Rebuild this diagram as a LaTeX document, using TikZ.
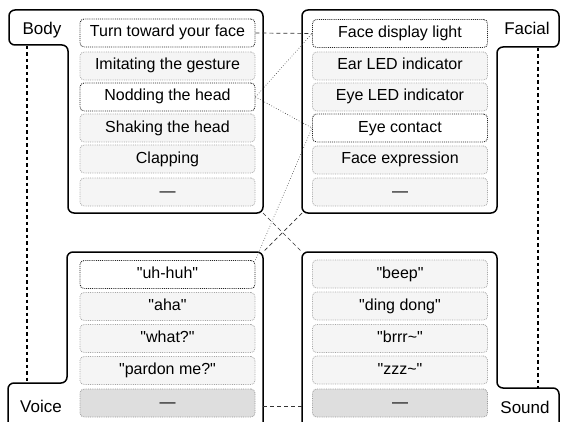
\documentclass[tikz,border=0pt]{standalone}
\usepackage{fontspec}
\setmainfont{Liberation Sans}
\newcommand\qq[1]{\textquotedbl#1\textquotedbl}
\begin{document}
\begin{tikzpicture}[x=1pt,y=-1pt,
  panel/.style={line width=1.5pt, rounded corners=6pt},
  item/.style={rounded corners=4pt, minimum width=175pt, minimum height=28pt,
    inner sep=0pt, text height=11.5pt, text depth=3.5pt,
    font=\fontsize{16}{19}\selectfont},
  hot/.style={item, draw=black!85, densely dotted, line width=0.9pt, fill=white},
  plain/.style={item, draw=black!35, densely dotted, line width=0.8pt, fill=black!4},
  tail/.style={item, draw=black!40, densely dotted, line width=0.8pt, fill=black!13},
  tag/.style={anchor=base, inner sep=0pt, font=\fontsize{17}{20}\selectfont},
  link/.style={black!80, line width=0.6pt, dotted},
  bridge/.style={black!80, line width=0.7pt, dash pattern=on 4pt off 3pt},
  rail/.style={black, line width=1.3pt, dash pattern=on 3.5pt off 3pt}]

\useasboundingbox (0,0) rectangle (561,422);

% panel outlines with their label tabs
\draw[panel] (9,45) -- (9,10) -- (263,10) -- (263,213) -- (68,213) -- (68,45) -- cycle;
\draw[panel] (302,213) -- (302,10) -- (559,10) -- (559,47) -- (497,47) -- (497,213) -- cycle;
\draw[panel] (8,440) -- (8,383) -- (67,383) -- (67,252) -- (263,252) -- (263,440);
\draw[panel] (302,440) -- (302,252) -- (497,252) -- (497,388) -- (559,388) -- (559,440);

% panel labels
\node[tag] (lbody)   at (42,35)   {Body};
\node[tag] (lfacial) at (527,35)  {Facial};
\node[tag] (lvoice)  at (41,412)  {Voice};
\node[tag] (lsound)  at (525,413) {Sound};

% body items
\node[hot]   (b1) at (167.5,33)  {Turn toward your face};
\node[plain] (b2) at (167.5,66)  {Imitating the gesture};
\node[hot]   (b3) at (167.5,97)  {Nodding the head};
\node[plain] (b4) at (167.5,128) {Shaking the head};
\node[plain] (b5) at (167.5,159) {Clapping};
\node[plain] (b6) at (167.5,192) {---};

% facial items
\node[hot]   (f1) at (400,33.5) {Face display light};
\node[plain] (f2) at (400,66)   {Ear LED indicator};
\node[plain] (f3) at (400,97)   {Eye LED indicator};
\node[hot]   (f4) at (400,128)  {Eye contact};
\node[plain] (f5) at (400,160)  {Face expression};
\node[plain] (f6) at (400,192)  {---};

% voice items
\node[hot]   (v1) at (167.5,274.5) {\qq{uh-huh}};
\node[plain] (v2) at (167.5,306.5) {\qq{aha}};
\node[plain] (v3) at (167.5,338.5) {\qq{what?}};
\node[plain] (v4) at (167.5,370.5) {\qq{pardon me?}};
\node[tail]  (v5) at (167.5,403)   {---};

% sound items
\node[plain] (s1) at (400,274)   {\qq{beep}};
\node[plain] (s2) at (400,306)   {\qq{ding dong}};
\node[plain] (s3) at (400,338.5) {\qq{brrr\textasciitilde}};
\node[plain] (s4) at (400,370)   {\qq{zzz\textasciitilde}};
\node[tail]  (s5) at (400,403)   {---};

% anchor points on the panel outlines
\coordinate (bodyBR)   at (263,213);
\coordinate (facialBL) at (302,213);
\coordinate (voiceTR)  at (263,252);
\coordinate (soundTL)  at (302,252);
\coordinate (voiceR)   at (263,406);
\coordinate (soundL)   at (302,406);
\coordinate (bodyRailA)   at (27,46);
\coordinate (bodyRailB)   at (27,383);
\coordinate (facialRailA) at (538,48);
\coordinate (facialRailB) at (538,388);

% dashed rails joining the stacked panels
\draw[rail] (bodyRailA) -- (bodyRailB);
\draw[rail] (facialRailA) -- (facialRailB);

% links between panels
\draw[bridge] (bodyBR) -- (soundTL);
\draw[bridge] (facialBL) -- (voiceTR);
\draw[bridge] (voiceR) -- (soundL);

% links between items
\draw[bridge] (b1.east) -- (f1.west);
\draw[link] (b3.east) -- (f1.west);
\draw[link] (b3.east) -- (f4.west);
\draw[link] (f4.west) -- (v1.north east);
\end{tikzpicture}
\end{document}
